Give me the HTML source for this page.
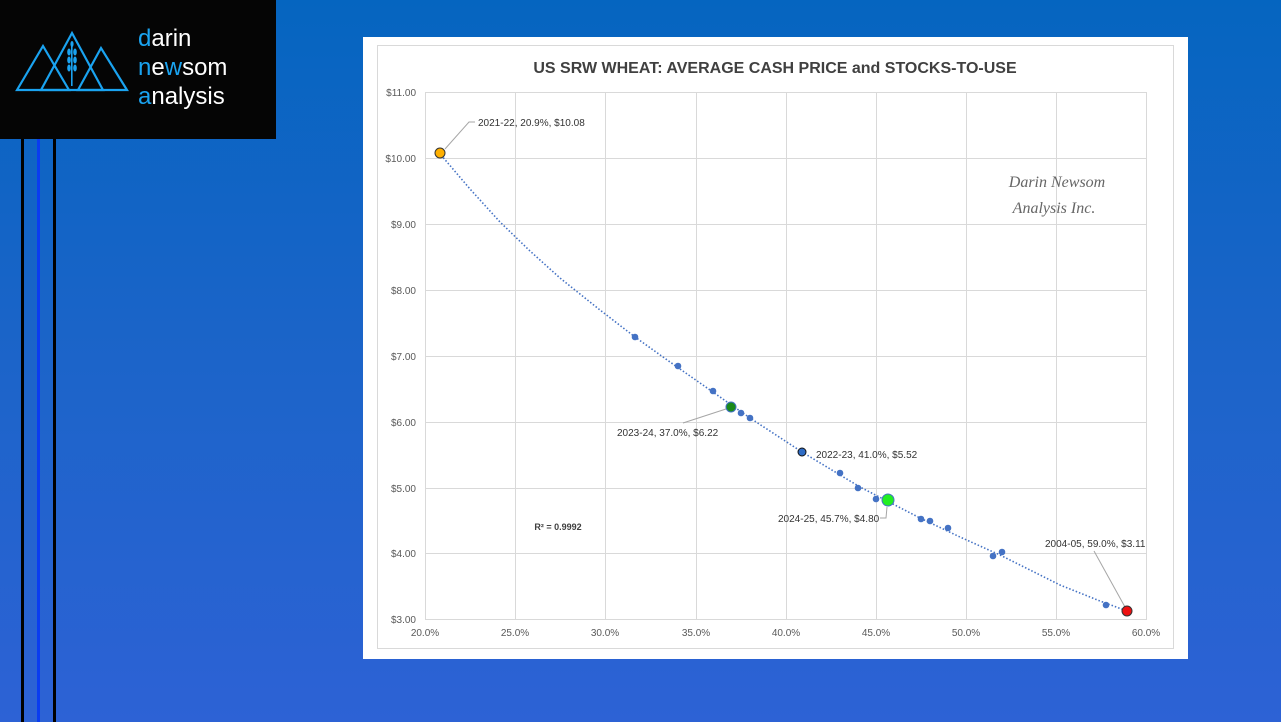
<!DOCTYPE html>
<html><head><meta charset="utf-8"><style>
html,body{margin:0;padding:0;}
body{width:1281px;height:722px;overflow:hidden;background:linear-gradient(180deg,#0565c0 0%,#1c64c9 50%,#2d62d5 100%);position:relative;font-family:"Liberation Sans",sans-serif;}
</style></head><body>
<svg width="1281" height="722" style="position:absolute;left:0;top:0" font-family="Liberation Sans, sans-serif">
<rect x="21" y="139" width="3" height="583" fill="#000"/>
<rect x="37" y="139" width="3" height="583" fill="#0a3cf0"/>
<rect x="53" y="139" width="3" height="583" fill="#000"/>
<rect x="0" y="0" width="276" height="139" fill="#050505"/>
<g fill="none" stroke="#1aa3f0" stroke-width="2.2">
<polygon points="17,90 43,46 69,90"/>
<polygon points="41,90 72,33 103,90"/>
<polygon points="78,90 101,48 127,90"/>
</g>
<g fill="#1aa3f0"><rect x="71" y="46" width="1.6" height="40"/>
<ellipse cx="69" cy="52" rx="1.8" ry="3.5"/><ellipse cx="75" cy="52" rx="1.8" ry="3.5"/>
<ellipse cx="69" cy="60" rx="1.8" ry="3.5"/><ellipse cx="75" cy="60" rx="1.8" ry="3.5"/>
<ellipse cx="69" cy="68" rx="1.8" ry="3.5"/><ellipse cx="75" cy="68" rx="1.8" ry="3.5"/>
<ellipse cx="72" cy="44" rx="1.6" ry="3"/></g>
<g font-size="24" fill="#fff">
<text x="138" y="46"><tspan fill="#1aa3f0">d</tspan>arin</text>
<text x="138" y="75"><tspan fill="#1aa3f0">n</tspan>e<tspan fill="#1aa3f0">w</tspan>som</text>
<text x="138" y="104"><tspan fill="#1aa3f0">a</tspan>nalysis</text>
</g>
<rect x="363" y="37" width="825" height="622" fill="#fff"/>
<rect x="377.5" y="45.5" width="796" height="603" fill="none" stroke="#d9d9d9"/>
<text x="775" y="73" text-anchor="middle" font-size="16" font-weight="bold" fill="#404040">US SRW WHEAT: AVERAGE CASH PRICE and STOCKS-TO-USE</text>
<g stroke="#d9d9d9" stroke-width="1">
<line x1="425" y1="92.5" x2="1147" y2="92.5"/>
<line x1="425" y1="158.5" x2="1147" y2="158.5"/>
<line x1="425" y1="224.5" x2="1147" y2="224.5"/>
<line x1="425" y1="290.5" x2="1147" y2="290.5"/>
<line x1="425" y1="356.5" x2="1147" y2="356.5"/>
<line x1="425" y1="422.5" x2="1147" y2="422.5"/>
<line x1="425" y1="488.5" x2="1147" y2="488.5"/>
<line x1="425" y1="553.5" x2="1147" y2="553.5"/>
<line x1="425" y1="619.5" x2="1147" y2="619.5"/>
<line x1="425.5" y1="92" x2="425.5" y2="620"/>
<line x1="515.5" y1="92" x2="515.5" y2="620"/>
<line x1="605.5" y1="92" x2="605.5" y2="620"/>
<line x1="696.5" y1="92" x2="696.5" y2="620"/>
<line x1="786.5" y1="92" x2="786.5" y2="620"/>
<line x1="876.5" y1="92" x2="876.5" y2="620"/>
<line x1="966.5" y1="92" x2="966.5" y2="620"/>
<line x1="1056.5" y1="92" x2="1056.5" y2="620"/>
<line x1="1146.5" y1="92" x2="1146.5" y2="620"/>
</g>
<g font-size="10" fill="#595959" text-anchor="end">
<text x="416" y="96">$11.00</text><text x="416" y="162">$10.00</text><text x="416" y="228">$9.00</text>
<text x="416" y="294">$8.00</text><text x="416" y="360">$7.00</text><text x="416" y="426">$6.00</text>
<text x="416" y="492">$5.00</text><text x="416" y="557">$4.00</text><text x="416" y="623">$3.00</text>
</g>
<g font-size="10" fill="#595959" text-anchor="middle">
<text x="425" y="636">20.0%</text><text x="515" y="636">25.0%</text><text x="605" y="636">30.0%</text>
<text x="696" y="636">35.0%</text><text x="786" y="636">40.0%</text><text x="876" y="636">45.0%</text>
<text x="966" y="636">50.0%</text><text x="1056" y="636">55.0%</text><text x="1146" y="636">60.0%</text>
</g>
<g font-family="Liberation Serif, serif" font-style="italic" font-size="16" fill="#666" text-anchor="middle">
<text x="1057" y="187">Darin Newsom</text><text x="1054" y="213">Analysis Inc.</text>
</g>
<text x="558" y="530" text-anchor="middle" font-size="9" font-weight="bold" fill="#404040">R² = 0.9992</text>
<path d="M441,155 L470,189 L500,222 L530,251 L560,278 L600,310 L635,337 L670,362 L700,383 L750,418 L802,452 L860,487 L920,518 L960,537 L1000,555 L1060,585 L1100,601 L1127,611" fill="none" stroke="#4472c4" stroke-width="1.6" stroke-dasharray="1.5,2"/>
<g stroke="#a6a6a6" fill="none" stroke-width="1">
<polyline points="445,149 469,122 475,122"/>
<line x1="729" y1="408" x2="683" y2="423"/>
<polyline points="887,507 886,518 880,518"/>
<line x1="1094" y1="551" x2="1125" y2="607"/>
</g>
<g fill="#4472c4">
<circle cx="635" cy="337" r="3.3"/><circle cx="678" cy="366" r="3.3"/><circle cx="713" cy="391" r="3.3"/>
<circle cx="741" cy="413" r="3.3"/><circle cx="750" cy="418" r="3.3"/><circle cx="840" cy="473" r="3.3"/>
<circle cx="858" cy="488" r="3.3"/><circle cx="876" cy="499" r="3.3"/><circle cx="921" cy="519" r="3.3"/>
<circle cx="930" cy="521" r="3.3"/><circle cx="948" cy="528" r="3.3"/><circle cx="993" cy="556" r="3.3"/>
<circle cx="1002" cy="552" r="3.3"/><circle cx="1106" cy="605" r="3.3"/>
</g>
<circle cx="440" cy="153" r="5" fill="#ffb000" stroke="#333" stroke-width="1"/>
<circle cx="731" cy="407" r="5" fill="#1a8a1a" stroke="#4472c4" stroke-width="1"/>
<circle cx="802" cy="452" r="4" fill="#2e6bc4" stroke="#111" stroke-width="1"/>
<circle cx="888" cy="500" r="6" fill="#22ee22" stroke="#4472c4" stroke-width="1"/>
<circle cx="1127" cy="611" r="5" fill="#ee1111" stroke="#333" stroke-width="1"/>
<g font-size="10" fill="#333">
<text x="478" y="126">2021-22, 20.9%, $10.08</text>
<text x="617" y="436">2023-24, 37.0%, $6.22</text>
<text x="816" y="458">2022-23, 41.0%, $5.52</text>
<text x="778" y="522">2024-25, 45.7%, $4.80</text>
<text x="1045" y="547">2004-05, 59.0%, $3.11</text>
</g>
</svg>
</body></html>
